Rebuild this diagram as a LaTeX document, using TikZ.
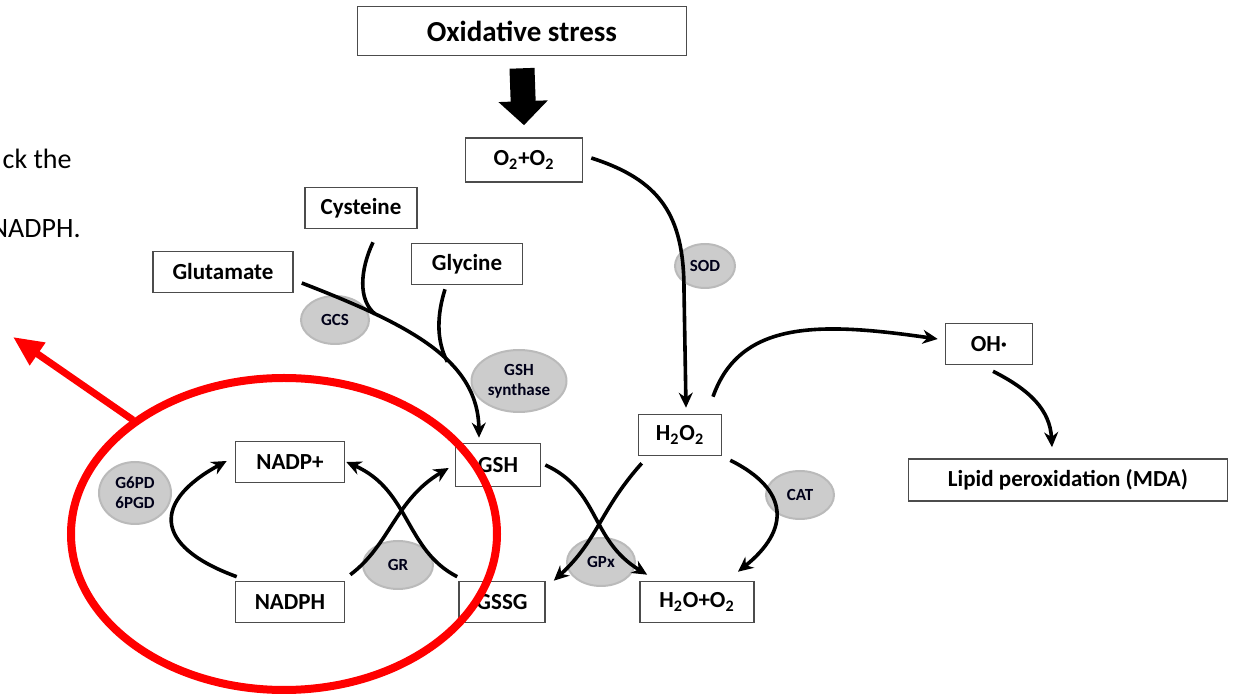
\documentclass[tikz,border=0pt]{standalone}
\usepackage{fontspec}
\setmainfont{Carlito}
\usetikzlibrary{arrows.meta,shapes.geometric,calc}

\begin{document}
\begin{tikzpicture}[x=0.5pt,y=-0.5pt,
  box/.style={draw=black!70, line width=0.8pt, fill=white, inner sep=0pt,
    minimum height=20.5pt, font=\bfseries\fontsize{11.5}{13}\selectfont},
  enzyme/.style={ellipse, draw=black!27, line width=1pt, fill=black!20, inner sep=0pt,
    align=center, text=black!90!blue, font=\bfseries\fontsize{8.5}{10}\selectfont},
  flow/.style={line width=1.8pt, -{Stealth[length=7.5pt,width=7pt]}},
  branch/.style={line width=1.8pt},
  side/.style={anchor=base east, inner sep=0pt, font=\fontsize{14}{16}\selectfont}]
  \useasboundingbox (0,0) rectangle (1233,694);

  % cut-off text of the page
  \node[side] (side1) at (72,169) {ck the};
  \node[side] (side2) at (81,238) {NADPH.};

  % enzymes
  \node[enzyme, minimum width=34pt, minimum height=24pt] (gcs) at (335,320) {GCS};
  \node[enzyme, minimum width=47.5pt, minimum height=31pt] (gshs) at (519,381) {GSH\\synthase};
  \node[enzyme, minimum width=30pt, minimum height=22pt] (sod) at (705,266) {SOD};
  \node[enzyme, minimum width=34pt, minimum height=24pt] (cat) at (800,495) {CAT};
  \node[enzyme, minimum width=36pt, minimum height=31pt] (g6pd) at (135,493) {G6PD\\6PGD};
  \node[enzyme, minimum width=35pt, minimum height=24pt] (gr) at (398,565) {GR};
  \node[enzyme, minimum width=34pt, minimum height=24pt] (gpx) at (601,562) {GPx};

  % boxes
  \node[box, minimum width=164.5pt, minimum height=24.5pt, font=\bfseries\fontsize{14.5}{16}\selectfont] (stress) at (522,31) {Oxidative stress};
  \node[box, minimum width=58.5pt, minimum height=22pt] (o2) at (524,160) {O\textsubscript{2}+O\textsubscript{2}};
  \node[box, minimum width=56pt] (cys) at (361,208) {Cysteine};
  \node[box, minimum width=55.5pt] (gly) at (467,264) {Glycine};
  \node[box, minimum width=70pt] (glu) at (223,272) {Glutamate};
  \node[box, minimum width=43.5pt] (oh) at (989,344) {OH·};
  \node[box, minimum width=41.5pt] (h2o2) at (680,435) {H\textsubscript{2}O\textsubscript{2}};
  \node[box, minimum width=159.5pt, minimum height=21pt] (lipid) at (1068,480) {Lipid peroxidation (MDA)};
  \node[box, minimum width=42.5pt, minimum height=21.5pt] (gsh) at (498,465) {GSH};
  \node[box, minimum width=54.5pt] (nadpp) at (290,462) {NADP+};
  \node[box, minimum width=54.5pt] (nadph) at (290,602) {NADPH};
  \node[box, minimum width=43pt] (gssg) at (502,602) {GSSG};
  \node[box, minimum width=57pt] (h2o) at (697,602) {H\textsubscript{2}O+O\textsubscript{2}};

  % big arrow
  \draw[line width=12.5pt, -{Triangle[length=12pt,width=24pt]}]
    ($(stress.south)+(0,12)$) -- ($(o2.north)+(0,-12)$);

  % synthesis of GSH
  \draw[flow] ($(glu.east)+(8,11)$) .. controls (410,325) and (478,360) ..
    coordinate[pos=0.25] (jcys) coordinate[pos=0.6] (jgly) ($(gsh.north)+(-19,-5)$);
  \draw[branch] ($(cys.south)+(12,13)$) .. controls (360,270) and (358,300) .. (jcys);
  \draw[branch] ($(gly.south)+(-22,4)$) .. controls (437,315) and (436,340) .. (jgly);

  % ROS
  \draw[flow] ($(o2.east)+(8,-2)$) .. controls (660,180) and (684,215) .. (684,290)
    -- ($(h2o2.north)+(6,-6)$);
  \draw[flow] ($(h2o2.north)+(33,-17)$) .. controls (740,320) and (820,322) .. ($(oh.west)+(-7,-5)$);
  \draw[flow] ($(oh.south)+(4,6)$) .. controls (1030,390) and (1050,410) .. ($(lipid.north)+(-16,-11)$);
  \draw[flow] ($(h2o2.south east)+(8,4)$) .. controls (790,490) and (790,530) .. ($(h2o.north)+(41,-9)$);
  \draw[flow] ($(h2o2.south west)+(4,7)$) .. controls (600,510) and (598,540) .. ($(gssg.north east)+(8,0)$);
  \draw[flow] ($(gsh.east)+(4,0)$) .. controls (600,490) and (590,540) .. ($(h2o.north west)+(8,-6)$);

  % NADPH cycle
  \draw[flow] ($(nadph.north west)+(2,-4)$) .. controls (150,545) and (155,500) .. ($(nadpp.west)+(-8,-1)$);
  \draw[flow] ($(nadph.north east)+(5,-6)$) .. controls (390,545) and (395,500) .. ($(gsh.west)+(-6,3)$);
  \draw[flow] ($(gssg.north west)+(-1,-4)$) .. controls (405,550) and (410,490) .. ($(nadpp.east)+(1,0)$);

  % red mark
  \coordinate (redtail) at (133,420);
  \coordinate (redtip) at (13,337);
  \draw[red, line width=3.5pt, -{Triangle[length=15pt,width=13pt]}] (redtail) -- (redtip);
  \draw[red, line width=4pt] (284,534) ellipse [x radius=106.5pt, y radius=78pt];
\end{tikzpicture}
\end{document}
